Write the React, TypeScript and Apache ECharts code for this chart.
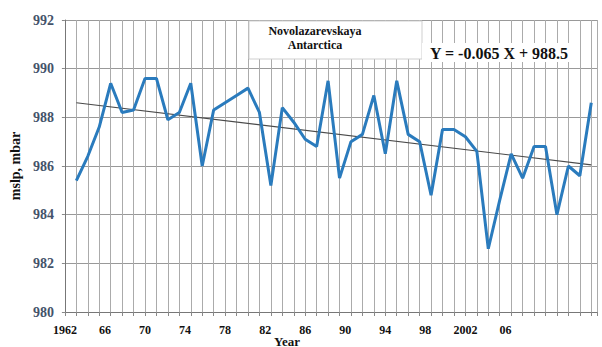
import React, { useEffect, useRef } from "react";
import * as echarts from "echarts";

const years = [
  1962, 1963, 1964, 1965, 1966, 1967, 1968, 1969, 1970, 1971, 1972, 1973,
  1974, 1975, 1976, 1977, 1978, 1979, 1980, 1981, 1982, 1983, 1984, 1985,
  1986, 1987, 1988, 1989, 1990, 1991, 1992, 1993, 1994, 1995, 1996, 1997,
  1998, 1999, 2000, 2001, 2002, 2003, 2004, 2005, 2006, 2007,
];
const pressure = [
  985.4, 986.4, 987.6, 989.4, 988.2, 988.3, 989.6, 989.6, 987.9, 988.2, 989.4, 986.0,
  988.3, 988.6, 988.9, 989.2, 988.2, 985.2, 988.4, 987.8, 987.1, 986.8, 989.5, 985.5,
  987.0, 987.3, 988.9, 986.5, 989.5, 987.3, 987.0, 984.8, 987.5, 987.5, 987.2, 986.6,
  982.6, 984.6, 986.5, 985.5, 986.8, 986.8, 984.0, 986.0, 985.6, 988.6,
];
const trendYears = [1962, 2007];
const trendValues = [988.6, 986.05];
const tickLabels = ["1962", "66", "70", "74", "78", "82", "86", "90", "94", "98", "2002", "06"];
const yTicks = [980, 982, 984, 986, 988, 990, 992];

const serif = "'Liberation Serif', 'Times New Roman', serif";

export default function App() {
  const ref = useRef<HTMLDivElement>(null);
  useEffect(() => {
    document.body.style.margin = "0";
    const chart = echarts.init(ref.current!, null, { renderer: "svg" });
    const labelStep = 3.5;
    chart.setOption({
      animation: false,
      backgroundColor: "#ffffff",
      grid: { left: 64, right: 5, top: 20, bottom: 35 },
      xAxis: [
        {
          type: "value",
          min: 0,
          max: 46.5,
          interval: labelStep,
          position: "bottom",
          axisLine: { show: false },
          axisTick: { show: false },
          splitLine: { show: false },
          showMaxLabel: false,
          axisLabel: {
            margin: 12,
            color: "#111",
            fontFamily: serif,
            fontWeight: "bold",
            fontSize: 12,
            formatter: (v: number) => {
              const k = Math.round(v / labelStep);
              if (Math.abs(k * labelStep - v) > 1e-6) return "";
              return tickLabels[k] ?? "";
            },
          },
        },
        {
          type: "value",
          min: 1961,
          max: 2007.5,
          interval: 1,
          position: "bottom",
          axisLine: { show: true, lineStyle: { color: "#777", width: 1 } },
          axisTick: { show: true, length: 4, lineStyle: { color: "#888" } },
          axisLabel: { show: false },
          splitLine: { show: true, lineStyle: { color: "#ababab", width: 1 } },
        },
      ],
      yAxis: {
        type: "value",
        min: yTicks[0],
        max: yTicks[yTicks.length - 1],
        interval: 2,
        name: "mslp, mbar",
        nameLocation: "middle",
        nameGap: 37,
        nameTextStyle: { fontFamily: serif, fontWeight: "bold", fontSize: 14, color: "#111" },
        axisLine: { show: true, lineStyle: { color: "#777" } },
        axisTick: { show: true, length: 3, lineStyle: { color: "#888" } },
        axisLabel: {
          margin: 11,
          color: "#44536a",
          fontFamily: serif,
          fontWeight: "bold",
          fontSize: 14,
        },
        splitLine: { show: true, lineStyle: { color: "#999", width: 1 } },
      },
      graphic: [
        { type: "rect", shape: { x: 249, y: 21, width: 173, height: 38 }, style: { fill: "#fff", stroke: "#cfcfcf", lineWidth: 1 }, z: 10 },
        {
          type: "text", x: 315, y: 31, z: 11,
          style: { text: "Novolazarevskaya", fill: "#111", font: `bold 12px ${serif}`, align: "center", verticalAlign: "middle" },
        },
        {
          type: "text", x: 315, y: 45, z: 11,
          style: { text: "Antarctica", fill: "#111", font: `bold 12px ${serif}`, align: "center", verticalAlign: "middle" },
        },
        { type: "rect", shape: { x: 422, y: 43, width: 156, height: 19 }, style: { fill: "#fff" }, z: 10 },
        {
          type: "text", x: 499, y: 53, z: 11,
          style: { text: "Y = -0.065 X + 988.5", fill: "#111", font: `bold 16px ${serif}`, align: "center", verticalAlign: "middle" },
        },
        {
          type: "text", x: 287, y: 341, z: 11,
          style: { text: "Year", fill: "#111", font: `bold 13px ${serif}`, align: "center", verticalAlign: "middle" },
        },
      ],
      series: [
        {
          type: "line",
          xAxisIndex: 1,
          data: trendYears.map((y, i) => [y, trendValues[i]]),
          symbol: "none",
          lineStyle: { color: "#4a4a4a", width: 1.2 },
          z: 3,
        },
        {
          type: "line",
          xAxisIndex: 1,
          data: years.map((y, i) => [y, pressure[i]]),
          symbol: "none",
          lineStyle: { color: "#2a7bbd", width: 3 },
          z: 4,
        },
      ],
    });
    return () => chart.dispose();
  }, []);
  return <div ref={ref} style={{ width: 602, height: 347 }} />;
}
